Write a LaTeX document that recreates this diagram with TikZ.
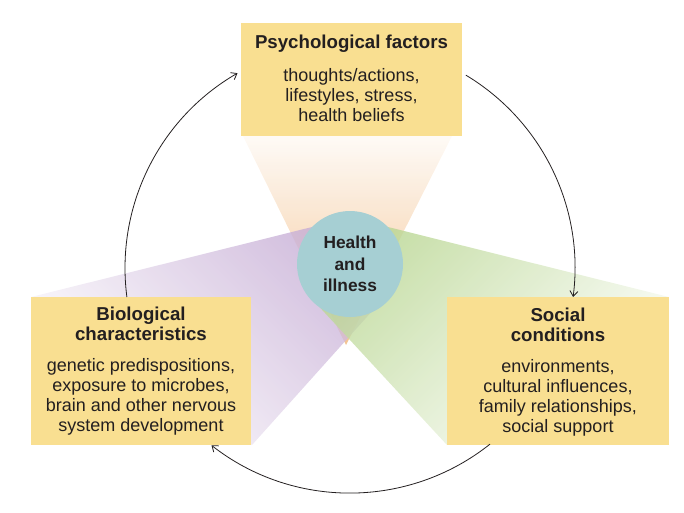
\documentclass[tikz,border=0pt]{standalone}
\usepackage{fontspec}
\setmainfont{Liberation Sans}
\usetikzlibrary{arrows.meta}
\definecolor{boxy}{HTML}{F9DF91}
\definecolor{circ}{HTML}{A6CFD3}
\definecolor{oran}{HTML}{F2BE88}
\definecolor{purp}{HTML}{C6ADD5}
\definecolor{gren}{HTML}{B9D692}
\definecolor{ink}{HTML}{231F20}
\begin{document}
\begin{tikzpicture}[x=0.75pt,y=-0.75pt,
  box/.style={fill=boxy,inner sep=0pt,align=center,text=ink,font=\fontsize{13.5}{15}\selectfont},
  ttl/.style={font=\bfseries\fontsize{14}{15}\selectfont},
  cyc/.style={draw=ink,line width=0.6pt,-{Straight Barb[length=4pt,width=6pt]}}]
\useasboundingbox (0,0) rectangle (684,512);
% wedges
\shade[top color=oran!8,bottom color=oran,fill opacity=0.9] (243,136) -- (452,136) -- (346,345) -- cycle;
\shade[top color=purp,bottom color=white,shading angle=-45,fill opacity=0.8] (31,297) -- (320,225) -- (391,290) -- (252,445) -- cycle;
\shade[top color=gren,bottom color=white,shading angle=45,fill opacity=0.8] (669,297) -- (380,225) -- (313,300) -- (447,445) -- cycle;
% boxes
\node[box,minimum width=221*0.75pt,minimum height=113*0.75pt] (psy) at (351.5,79.5) {};
\node[ttl,text=ink] at (351.5,44) {Psychological factors};
\node[box,fill=none] at (351.5,95) {thoughts/actions,\\lifestyles, stress,\\health beliefs};
\node[box,minimum width=220*0.75pt,minimum height=148*0.75pt] (bio) at (141,371) {};
\node[ttl,text=ink,align=center] at (141,324) {Biological\\characteristics};
\node[box,fill=none] at (141,397) {genetic predispositions,\\exposure to microbes,\\brain and other nervous\\system development};
\node[box,minimum width=222*0.75pt,minimum height=148*0.75pt] (soc) at (558,371) {};
\node[ttl,text=ink,align=center] at (558,325) {Social\\conditions};
\node[box,fill=none] at (558,398) {environments,\\cultural influences,\\family relationships,\\social support};
% center
\node[circle,fill=circ,minimum size=106*0.75pt,inner sep=0pt,align=center,text=ink,font=\bfseries\fontsize{13}{16}\selectfont] (hi) at (350,264) {Health\\and\\illness};
% cycle arcs
\coordinate (c) at (350,268);
\draw[cyc] (c) ++(187.4:168.75pt) arc[start angle=187.4,end angle=120,radius=168.75pt];
\draw[cyc] (c) ++(59:168.75pt) arc[start angle=59,end angle=-7.4,radius=168.75pt];
\draw[cyc] (c) ++(-51.5:168.75pt) arc[start angle=-51.5,end angle=-128,radius=168.75pt];
\end{tikzpicture}
\end{document}
